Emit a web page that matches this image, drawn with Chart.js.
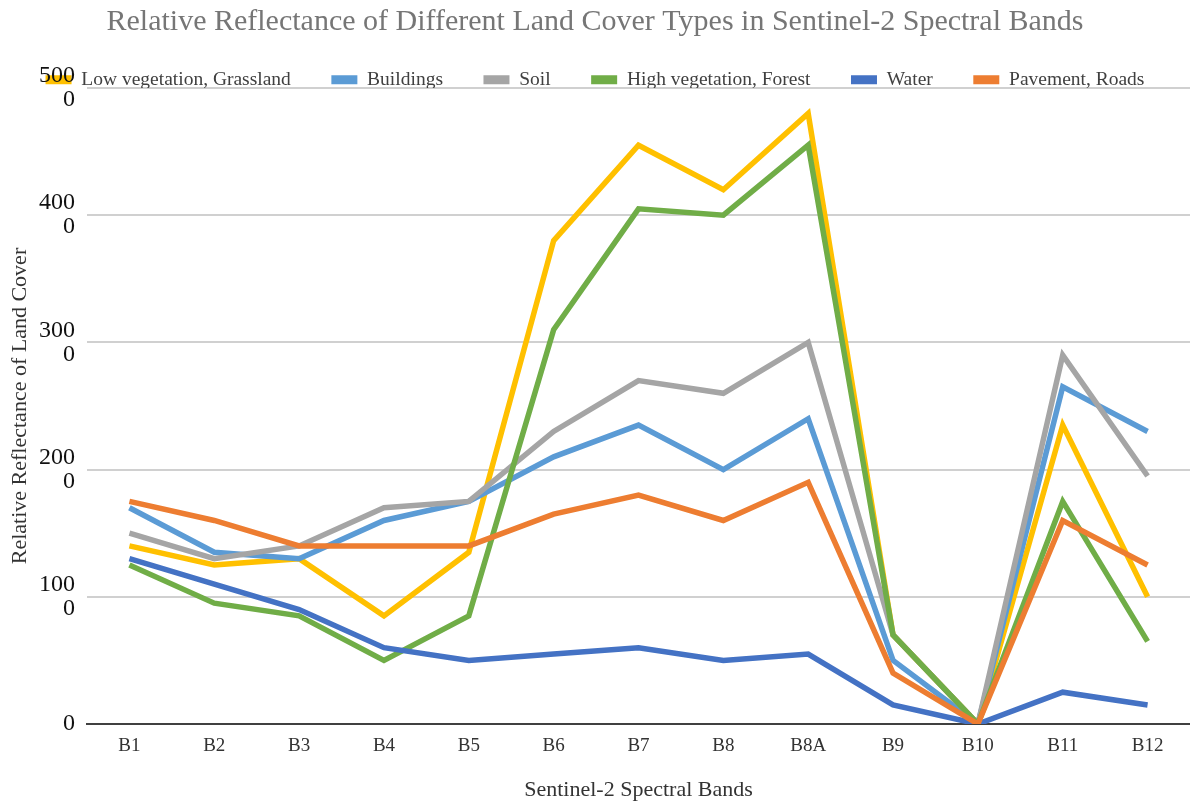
<!DOCTYPE html>
<html>
<head>
<meta charset="utf-8">
<title>Relative Reflectance of Land Cover Types</title>
<script src="https://cdn.jsdelivr.net/npm/chart.js@4/dist/chart.umd.min.js"></script>
<style>
    html, body { margin: 0; padding: 0; background: #fff; }
    #wrap { width: 1190px; height: 806px; }
</style>
</head>
<body>
<div id="wrap"><canvas id="reflectanceChart"></canvas></div>
<script>
// Sentinel-2 bands on the x axis
const bands = ["B1", "B2", "B3", "B4", "B5", "B6", "B7", "B8", "B8A", "B9", "B10", "B11", "B12"];

// Reflectance values per land cover type
const lowVegetation = [1400, 1250, 1300, 850, 1350, 3800, 4550, 4200, 4800, 700, 0, 2350, 1000];
const buildings     = [1700, 1350, 1300, 1600, 1750, 2100, 2350, 2000, 2400, 500, 0, 2650, 2300];
const soil          = [1500, 1300, 1400, 1700, 1750, 2300, 2700, 2600, 3000, 700, 0, 2900, 1950];
const highVegetation = [1250, 950, 850, 500, 850, 3100, 4050, 4000, 4550, 700, 0, 1750, 650];
const water         = [1300, 1100, 900, 600, 500, 550, 600, 500, 550, 150, 0, 250, 150];
const pavement      = [1750, 1600, 1400, 1400, 1400, 1650, 1800, 1600, 1900, 400, 0, 1600, 1250];

const seriesNames = ["Low vegetation, Grassland", "Buildings", "Soil", "High vegetation, Forest", "Water", "Pavement, Roads"];
const seriesData = [lowVegetation, buildings, soil, highVegetation, water, pavement];
const seriesColors = ["#FFC000", "#5B9BD5", "#A5A5A5", "#70AD47", "#4472C4", "#ED7D31"];

// y ticks, and their labels as they wrap in the original
const yTickValues = [0, 1000, 2000, 3000, 4000, 5000];
const yTickLabels = [["0"], ["100", "0"], ["200", "0"], ["300", "0"], ["400", "0"], ["500", "0"]];

Chart.defaults.font.family = "'Liberation Serif', 'Times New Roman', serif";

const datasets = seriesNames.map(function (name, i) {
    return {
        label: name,
        data: seriesData[i],
        borderColor: seriesColors[i],
        backgroundColor: seriesColors[i],
        borderWidth: 5.5,
        pointRadius: 0,
        fill: false,
        tension: 0,
        order: seriesNames.length - i   // later series are drawn on top
    };
});

new Chart(document.getElementById("reflectanceChart"), {
    type: "line",
    data: { labels: bands, datasets: datasets },
    options: {
        responsive: true,
        maintainAspectRatio: false,
        animation: false,
        layout: { padding: 0 },
        plugins: {
            title: {
                display: true,
                text: "Relative Reflectance of Different Land Cover Types in Sentinel-2 Spectral Bands",
                color: "#767676",
                font: { size: 30, weight: "normal", lineHeight: 0.3 },
                padding: { top: 18, bottom: 2.5 }
            },
            legend: {
                position: "top",
                maxHeight: 58.5,   // lets the legend sit over the top gridline like the original
                labels: {
                    boxWidth: 26,
                    boxHeight: 9,
                    padding: 40.5,
                    color: "#404040",
                    font: { size: 19.5 },
                    sort: function (a, b) { return a.datasetIndex - b.datasetIndex; },
                    generateLabels: function (chart) {
                        return Chart.defaults.plugins.legend.labels.generateLabels(chart)
                            .map(function (item) { item.lineWidth = 0; return item; });
                    }
                }
            },
            tooltip: { enabled: false }
        },
        scales: {
            x: {
                offset: true,
                grid: { display: true, drawOnChartArea: false, drawTicks: false },
                border: { display: true, color: "#404040", width: 2 },
                ticks: { color: "#333", font: { size: 19 }, padding: 11, maxRotation: 0, autoSkip: false },
                title: {
                    display: true,
                    text: "Sentinel-2 Spectral Bands",
                    color: "#333",
                    font: { size: 22 },
                    padding: { top: 3, bottom: 3 }
                },
                afterFit: function (scale) { scale.height = 82; }
            },
            y: {
                min: 0,
                max: 5000,
                ticks: {
                    stepSize: 1000,
                    color: "#111",
                    font: { size: 24, lineHeight: 1.0 },
                    padding: 12,
                    callback: function (value) { return yTickLabels[yTickValues.indexOf(value)]; }
                },
                grid: {
                    drawTicks: false,
                    lineWidth: 2,
                    color: function (ctx) { return ctx.tick && ctx.tick.value === 0 ? "rgba(0,0,0,0)" : "#d0d0d0"; }
                },
                border: { display: false },
                title: {
                    display: true,
                    text: "Relative Reflectance of Land Cover",
                    color: "#333",
                    font: { size: 22 },
                    padding: { top: 7, bottom: 7 }
                },
                afterFit: function (scale) { scale.width = 87; }
            }
        }
    }
});
</script>
</body>
</html>
